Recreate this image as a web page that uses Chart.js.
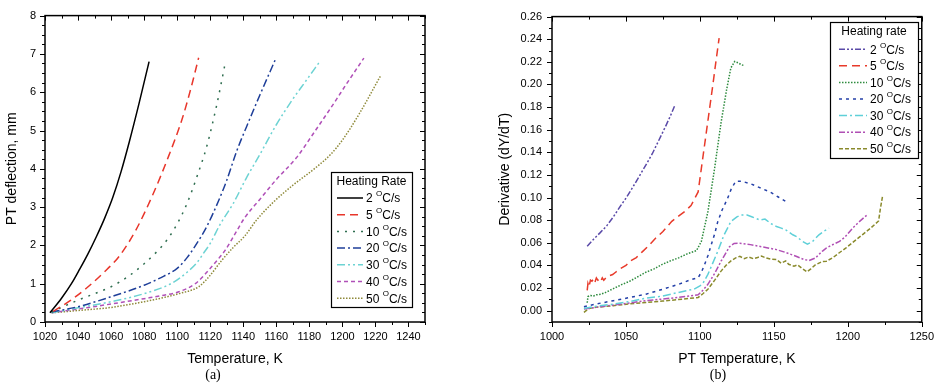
<!DOCTYPE html>
<html>
<head>
<meta charset="utf-8">
<script src="https://cdn.jsdelivr.net/npm/chart.js@4.4.0/dist/chart.umd.min.js"></script>
<style>
  html, body { margin: 0; padding: 0; background: #fff; }
  #wrap { position: relative; width: 942px; height: 388px; overflow: hidden; }
  canvas { position: absolute; top: 0; }
  #chartA { left: 0; }
  #chartB { left: 471px; }
  .sub { position: absolute; top: 367px; width: 40px; margin-left: -20px; text-align: center;
         font: 14px "Liberation Serif", "Times New Roman", serif; color: #000; }
</style>
</head>
<body>
<div id="wrap">
  <canvas id="chartA" width="471" height="388"></canvas>
  <canvas id="chartB" width="471" height="388"></canvas>
  <div class="sub" style="left:213px">(a)</div>
  <div class="sub" style="left:718px">(b)</div>
</div>
<script>
// ---- data: panel (a), PT deflection (mm) vs temperature (K)
var ratesA = [2, 5, 10, 20, 30, 40, 50];
var a2T = [1023, 1030, 1036, 1041, 1046, 1051, 1056, 1061, 1066, 1071, 1077, 1083];
var a2Y = [0.24, 0.62, 1.0, 1.38, 1.78, 2.22, 2.7, 3.25, 3.92, 4.7, 5.72, 6.8];
var a5T = [1025, 1035, 1045, 1055, 1065, 1075, 1085, 1095, 1103, 1108, 1113];
var a5Y = [0.28, 0.55, 0.88, 1.27, 1.72, 2.4, 3.3, 4.35, 5.3, 6.05, 6.9];
var a10T = [1024, 1032, 1040, 1050, 1060, 1070, 1080, 1088, 1094, 1100, 1106, 1112, 1118, 1124, 1129];
var a10Y = [0.26, 0.42, 0.57, 0.74, 0.92, 1.18, 1.52, 1.85, 2.15, 2.56, 3.1, 3.8, 4.6, 5.68, 6.74];
var a20T = [1024, 1040, 1060, 1080, 1092, 1100, 1106, 1112, 1118, 1125, 1130, 1136, 1142, 1150, 1159.4];
var a20Y = [0.26, 0.4, 0.66, 0.96, 1.2, 1.4, 1.68, 2.06, 2.5, 3.16, 3.7, 4.46, 5.1, 5.92, 6.85];
var a30T = [1024, 1040, 1060, 1080, 1097, 1106, 1112, 1116, 1120, 1126, 1134, 1142, 1150, 1160, 1170, 1178, 1186];
var a30Y = [0.24, 0.37, 0.53, 0.74, 1.02, 1.3, 1.55, 1.8, 2.05, 2.55, 3.1, 3.77, 4.37, 5.15, 5.82, 6.3, 6.78];
var a40T = [1024, 1040, 1060, 1080, 1092, 1101, 1111, 1119, 1124, 1129, 1135, 1141, 1150, 1160, 1172, 1184, 1195, 1203, 1213];
var a40Y = [0.24, 0.34, 0.47, 0.61, 0.7, 0.79, 1.0, 1.35, 1.6, 1.87, 2.3, 2.73, 3.2, 3.72, 4.28, 5.02, 5.72, 6.25, 6.89];
var a50T = [1024, 1040, 1060, 1080, 1092, 1101, 1113, 1119, 1127, 1134, 1141, 1148, 1158, 1170, 1183, 1193, 1200, 1210, 1223];
var a50Y = [0.24, 0.3, 0.38, 0.53, 0.64, 0.74, 0.92, 1.17, 1.61, 1.95, 2.25, 2.66, 3.12, 3.57, 4.0, 4.38, 4.75, 5.42, 6.42];
var xTicksA = [1020, 1040, 1060, 1080, 1100, 1120, 1140, 1160, 1180, 1200, 1220, 1240];
var yTicksA = [0, 1, 2, 3, 4, 5, 6, 7, 8];

// ---- data: panel (b), derivative dY/dT vs PT temperature (K)
var ratesB = [2, 5, 10, 20, 30, 40, 50];
var b2T = [1023.8, 1028, 1032.6, 1037, 1041.5, 1046, 1050.3, 1055, 1059.1, 1064, 1067.9, 1072, 1076.8, 1080, 1082.9];
var b2Y = [0.057, 0.063, 0.069, 0.075, 0.083, 0.092, 0.1, 0.11, 0.119, 0.13, 0.139, 0.15, 0.163, 0.172, 0.181];
var b5T = [1023.8, 1024.3, 1025, 1026, 1027, 1028, 1029, 1030, 1031, 1032, 1033, 1034, 1035, 1037, 1039, 1041, 1043, 1046, 1050, 1053, 1057, 1061, 1065, 1070, 1075, 1081, 1086, 1090, 1094, 1098.8, 1101, 1103, 1105, 1107, 1109, 1111, 1113];
var b5Y = [0.018, 0.024, 0.021, 0.027, 0.026, 0.028, 0.025, 0.029, 0.027, 0.028, 0.026, 0.029, 0.027, 0.03, 0.031, 0.032, 0.034, 0.037, 0.04, 0.044, 0.047, 0.052, 0.057, 0.064, 0.07, 0.079, 0.084, 0.088, 0.093, 0.105, 0.126, 0.145, 0.164, 0.183, 0.202, 0.222, 0.241];
var b10T = [1023.8, 1024.3, 1026, 1028, 1030, 1033, 1036, 1041.5, 1047, 1052.5, 1058, 1063.5, 1069, 1074.6, 1080, 1085.6, 1091, 1097.7, 1101, 1105.4, 1109.9, 1114.3, 1118, 1120.9, 1123.5, 1126, 1128, 1130];
var b10Y = [0.007, 0.0125, 0.0135, 0.013, 0.014, 0.0145, 0.016, 0.0195, 0.023, 0.026, 0.03, 0.034, 0.037, 0.041, 0.044, 0.0467, 0.05, 0.0531, 0.0613, 0.0875, 0.1255, 0.1663, 0.195, 0.2145, 0.2203, 0.219, 0.2175, 0.2166];
var b20T = [1021.6, 1030, 1041.5, 1052, 1063.5, 1075, 1085.6, 1093, 1098.8, 1101, 1103.2, 1105.5, 1107.7, 1110, 1112.1, 1115, 1118.7, 1121, 1124.2, 1128, 1134.1, 1140, 1147.4, 1153, 1158.4];
var b20Y = [0.0035, 0.006, 0.0088, 0.0115, 0.0146, 0.019, 0.0233, 0.027, 0.0292, 0.034, 0.0409, 0.049, 0.0584, 0.068, 0.0788, 0.089, 0.0992, 0.107, 0.1144, 0.1145, 0.1123, 0.109, 0.105, 0.1005, 0.0963];
var b30T = [1021.6, 1030, 1041.5, 1052, 1063.5, 1075, 1090, 1096, 1100, 1102, 1105.4, 1108, 1112.1, 1116, 1120.9, 1125, 1128, 1131.9, 1135, 1138, 1140.7, 1144, 1148, 1151.8, 1155, 1158, 1162.8, 1166, 1169, 1172.7, 1176, 1180.5, 1184, 1187.3];
var b30Y = [0.002, 0.004, 0.0058, 0.008, 0.011, 0.013, 0.0175, 0.019, 0.0219, 0.024, 0.0321, 0.04, 0.0525, 0.066, 0.0788, 0.083, 0.0845, 0.0846, 0.083, 0.0815, 0.0802, 0.081, 0.077, 0.0744, 0.073, 0.0715, 0.0671, 0.065, 0.0615, 0.0589, 0.061, 0.0671, 0.0705, 0.0729];
var b40T = [1021.6, 1030, 1041.5, 1063.5, 1080, 1090, 1098.8, 1102, 1105.4, 1110, 1114.3, 1118, 1120, 1123.1, 1127, 1134.1, 1142, 1151.8, 1158, 1165, 1170, 1173.8, 1178, 1182.7, 1185.6, 1190, 1194.4, 1198, 1203.2, 1208, 1213.5];
var b40Y = [0.0015, 0.003, 0.005, 0.0088, 0.011, 0.0125, 0.014, 0.018, 0.0233, 0.033, 0.0438, 0.052, 0.0565, 0.0595, 0.0597, 0.0584, 0.0565, 0.054, 0.0515, 0.0481, 0.0455, 0.0443, 0.0465, 0.0525, 0.0555, 0.0585, 0.0613, 0.065, 0.0729, 0.079, 0.0852];
var b50T = [1021.6, 1025, 1030, 1041.5, 1052, 1063.5, 1075, 1088, 1098.8, 1102, 1105.4, 1110, 1114.3, 1118, 1121, 1124.2, 1127, 1130, 1133, 1136, 1139, 1141.6, 1145, 1148, 1151.8, 1155, 1158, 1160, 1163.6, 1166, 1169, 1172.4, 1175, 1178, 1182.7, 1185.6, 1190, 1194, 1198.8, 1204, 1209.8, 1215, 1220.8, 1222, 1223.4];
var b50Y = [-0.0015, 0.002, 0.003, 0.0044, 0.006, 0.0073, 0.0085, 0.0102, 0.0117, 0.015, 0.019, 0.027, 0.035, 0.0405, 0.044, 0.0467, 0.048, 0.046, 0.0475, 0.046, 0.047, 0.0482, 0.0465, 0.0455, 0.0452, 0.042, 0.044, 0.041, 0.0394, 0.0405, 0.0375, 0.0344, 0.037, 0.0405, 0.0435, 0.0438, 0.047, 0.051, 0.0555, 0.061, 0.0671, 0.0725, 0.0793, 0.09, 0.1006];
var xTicksB = [1000, 1050, 1100, 1150, 1200, 1250];
var yTicksB = [0, 0.02, 0.04, 0.06, 0.08, 0.10, 0.12, 0.14, 0.16, 0.18, 0.20, 0.22, 0.24, 0.26];

var seriesA = [[a2T, a2Y], [a5T, a5Y], [a10T, a10Y], [a20T, a20Y], [a30T, a30Y], [a40T, a40Y], [a50T, a50Y]];
var seriesB = [[b2T, b2Y], [b5T, b5Y], [b10T, b10Y], [b20T, b20Y], [b30T, b30Y], [b40T, b40Y], [b50T, b50Y]];

var stylesA = [
    { color: '#000000', dash: [] },
    { color: '#e8362b', dash: [8, 5] },
    { color: '#2f6e50', dash: [2, 6] },
    { color: '#1f3f99', dash: [8, 3, 2, 3] },
    { color: '#6dd3d3', dash: [8, 3, 2, 3, 2, 3] },
    { color: '#b050b8', dash: [4, 3] },
    { color: '#8f8a3a', dash: [1.5, 1.5] }
];
var stylesB = [
    { color: '#5a4aa8', dash: [6, 2, 2, 2, 2, 2] },
    { color: '#e83a2a', dash: [8, 5] },
    { color: '#2e8b3e', dash: [1.5, 1.5] },
    { color: '#2440a8', dash: [3, 4] },
    { color: '#5fd0d8', dash: [8, 3, 2, 3] },
    { color: '#b04fb4', dash: [6, 2, 2, 2, 2, 2] },
    { color: '#8a8a2c', dash: [4, 2] }
];

var SANS = '"Liberation Sans", Arial, sans-serif';

function isMajor(v, majors) {
    for (var i = 0; i < majors.length; i++) {
        if (Math.abs(majors[i] - v) < 1e-9) return true;
    }
    return false;
}

// box frame with ticks: outward on left/bottom, inward on top/right
var framePlugin = {
    id: 'frame',
    afterDraw: function(chart, args, o) {
        var ctx = chart.ctx, a = chart.chartArea;
        var xs = chart.scales.x, ys = chart.scales.y;
        var i, v, p, len;
        ctx.save();
        ctx.strokeStyle = '#000';
        ctx.lineWidth = 1;
        ctx.beginPath();
        var nx = Math.round((o.xMax - o.xMin) / o.xStep);
        for (i = 0; i <= nx; i++) {
            v = Math.round((o.xMin + i * o.xStep) * 1e6) / 1e6;
            len = isMajor(v, o.xMajors) ? 5 : 3;
            p = Math.round(xs.getPixelForValue(v)) + 0.5;
            ctx.moveTo(p, a.bottom); ctx.lineTo(p, a.bottom + len);
            ctx.moveTo(p, a.top); ctx.lineTo(p, a.top + len);
        }
        var ny = Math.round((o.yMax - o.yMin) / o.yStep);
        for (i = 0; i <= ny; i++) {
            v = Math.round((o.yMin + i * o.yStep) * 1e6) / 1e6;
            len = isMajor(v, o.yMajors) ? 5 : 3;
            p = Math.round(ys.getPixelForValue(v)) + 0.5;
            ctx.moveTo(a.left, p); ctx.lineTo(a.left - len, p);
            ctx.moveTo(a.right, p); ctx.lineTo(a.right - len, p);
        }
        ctx.stroke();
        ctx.lineWidth = 1.5;
        ctx.strokeRect(a.left, a.top, a.right - a.left, a.bottom - a.top);
        ctx.restore();
    }
};

// legend drawn as a framed box with line samples and superscript degree mark
var boxLegendPlugin = {
    id: 'boxLegend',
    afterDraw: function(chart, args, o) {
        var ctx = chart.ctx;
        ctx.save();
        ctx.fillStyle = '#fff';
        ctx.fillRect(o.x, o.y, o.w, o.h);
        ctx.strokeStyle = '#000';
        ctx.lineWidth = 1.2;
        ctx.strokeRect(o.x + 0.5, o.y + 0.5, o.w, o.h);
        ctx.fillStyle = '#000';
        ctx.textBaseline = 'middle';
        ctx.textAlign = 'center';
        ctx.font = '12px ' + SANS;
        ctx.fillText(o.title, o.x + o.w / 2, o.titleY);
        ctx.textAlign = 'left';
        chart.data.datasets.forEach(function(ds, i) {
            var ry = o.rowY + i * o.rowGap;
            ctx.strokeStyle = ds.borderColor;
            ctx.lineWidth = 1.5;
            ctx.setLineDash(ds.borderDash);
            ctx.beginPath();
            ctx.moveTo(o.lineX0, ry);
            ctx.lineTo(o.lineX1, ry);
            ctx.stroke();
            ctx.setLineDash([]);
            var tx = o.textX;
            var num = o.rates[i] + ' ';
            ctx.font = '12px ' + SANS;
            ctx.fillText(num, tx, ry + 1);
            tx += ctx.measureText(num).width;
            ctx.font = '8px ' + SANS;
            ctx.fillText('O', tx, ry - 4);
            tx += ctx.measureText('O').width;
            ctx.font = '12px ' + SANS;
            ctx.fillText('C/s', tx, ry + 1);
        });
        ctx.restore();
    }
};

function buildDatasets(series, styles, rates, tension) {
    return series.map(function(s, i) {
        return {
            label: rates[i] + ' °C/s',
            data: s[0].map(function(t, k) { return { x: t, y: s[1][k] }; }),
            borderColor: styles[i].color,
            borderDash: styles[i].dash,
            borderWidth: 1.5,
            pointRadius: 0,
            fill: false,
            tension: tension,
            cubicInterpolationMode: tension ? 'monotone' : 'default'
        };
    });
}

function axisTitle(text) {
    return { display: true, text: text, color: '#000', font: { family: SANS, size: 14 }, padding: { top: 4, bottom: 4 } };
}

function tickFont() {
    return { family: SANS, size: 11 };
}

new Chart(document.getElementById('chartA'), {
    type: 'line',
    data: { datasets: buildDatasets(seriesA, stylesA, ratesA, 0.4) },
    options: {
        responsive: false,
        animation: false,
        devicePixelRatio: 1,
        layout: { autoPadding: false, padding: { left: 0, right: 46, top: 13, bottom: 16 } },
        plugins: {
            legend: { display: false },
            tooltip: { enabled: false },
            frame: { xMin: 1020, xMax: 1250, xStep: 10, xMajors: xTicksA, yMin: 0, yMax: 8, yStep: 0.25, yMajors: yTicksA },
            boxLegend: {
                x: 331, y: 172, w: 81, h: 135, title: 'Heating Rate', titleY: 182,
                rowY: 198, rowGap: 16.7, lineX0: 337, lineX1: 363, textX: 366, rates: ratesA
            }
        },
        scales: {
            x: {
                type: 'linear', min: 1020, max: 1250,
                afterBuildTicks: function(s) { s.ticks = xTicksA.map(function(v) { return { value: v }; }); },
                afterFit: function(s) { s.height = 50; },
                grid: { display: false, drawTicks: false },
                border: { display: false },
                ticks: { padding: 8, color: '#000', font: tickFont(), maxRotation: 0, autoSkip: false,
                         callback: function(v) { return String(v); } },
                title: axisTitle('Temperature, K')
            },
            y: {
                type: 'linear', min: 0, max: 8,
                afterBuildTicks: function(s) { s.ticks = yTicksA.map(function(v) { return { value: v }; }); },
                afterFit: function(s) { s.width = 45; },
                grid: { display: false, drawTicks: false },
                border: { display: false },
                ticks: { padding: 9, color: '#000', font: tickFont(),
                         callback: function(v) { return String(v); } },
                title: axisTitle('PT deflection, mm')
            }
        }
    },
    plugins: [framePlugin, boxLegendPlugin]
});

new Chart(document.getElementById('chartB'), {
    type: 'line',
    data: { datasets: buildDatasets(seriesB, stylesB, ratesB, 0) },
    options: {
        responsive: false,
        animation: false,
        devicePixelRatio: 1,
        layout: { autoPadding: false, padding: { left: 22, right: 11, top: 13, bottom: 16 } },
        plugins: {
            legend: { display: false },
            tooltip: { enabled: false },
            frame: { xMin: 1000, xMax: 1250, xStep: 25, xMajors: xTicksB, yMin: -0.01, yMax: 0.26, yStep: 0.01, yMajors: yTicksB },
            boxLegend: {
                x: 359, y: 22, w: 88, h: 136, title: 'Heating rate', titleY: 32,
                rowY: 49.3, rowGap: 16.57, lineX0: 368, lineX1: 396, textX: 399, rates: ratesB
            }
        },
        scales: {
            x: {
                type: 'linear', min: 1000, max: 1250,
                afterBuildTicks: function(s) { s.ticks = xTicksB.map(function(v) { return { value: v }; }); },
                afterFit: function(s) { s.height = 50; },
                grid: { display: false, drawTicks: false },
                border: { display: false },
                ticks: { padding: 8, color: '#000', font: tickFont(), maxRotation: 0, autoSkip: false,
                         callback: function(v) { return String(v); } },
                title: axisTitle('PT Temperature, K')
            },
            y: {
                type: 'linear', min: -0.01, max: 0.26,
                afterBuildTicks: function(s) { s.ticks = yTicksB.map(function(v) { return { value: v }; }); },
                afterFit: function(s) { s.width = 59; },
                grid: { display: false, drawTicks: false },
                border: { display: false },
                ticks: { padding: 10, color: '#000', font: tickFont(),
                         callback: function(v) { return v.toFixed(2); } },
                title: axisTitle('Derivative (dY/dT)')
            }
        }
    },
    plugins: [framePlugin, boxLegendPlugin]
});
</script>
</body>
</html>
